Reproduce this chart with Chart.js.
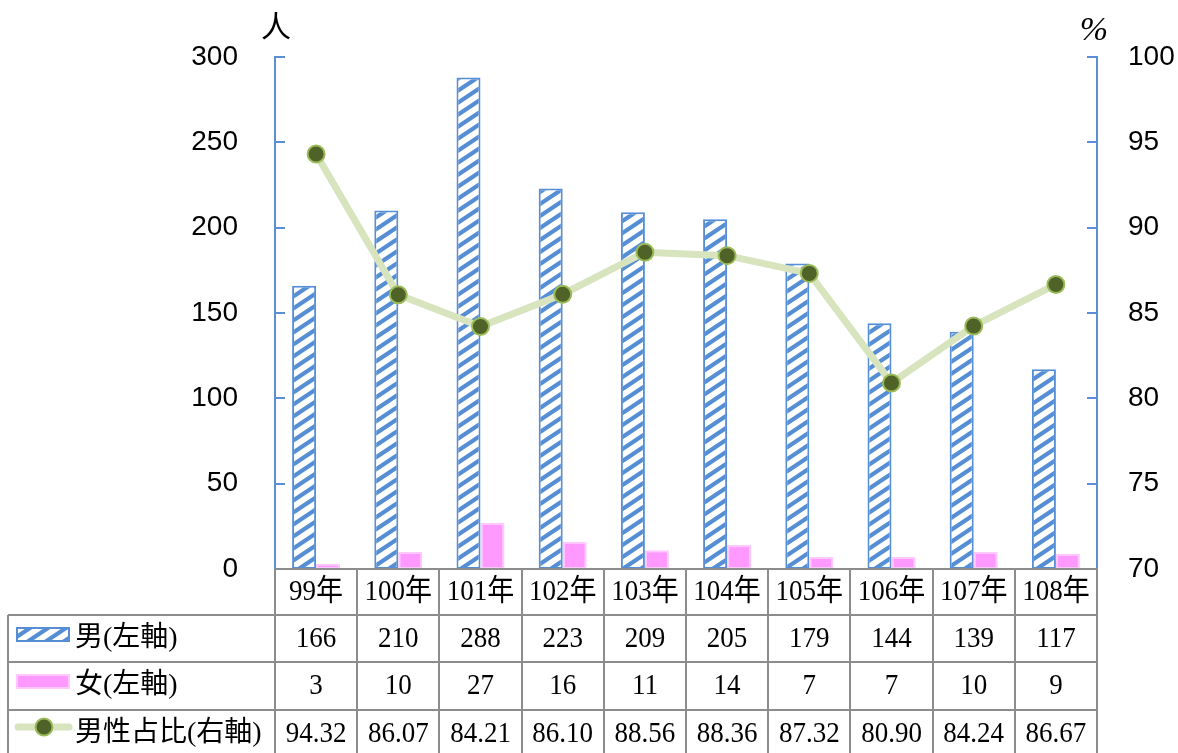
<!DOCTYPE html>
<html><head><meta charset="utf-8">
<script src="https://cdn.jsdelivr.net/npm/chart.js@4"></script>
<style>html,body{margin:0;padding:0;background:#fff;overflow:hidden}canvas{display:block}</style>
</head><body>
<canvas id="c" width="1178" height="753"></canvas>
<script>
const categories = ['99年','100年','101年','102年','103年','104年','105年','106年','107年','108年'];
const maleCounts = [166,210,288,223,209,205,179,144,139,117];
const femaleCounts = [3,10,27,16,11,14,7,7,10,9];
const maleShare = [94.32,86.07,84.21,86.10,88.56,88.36,87.32,80.90,84.24,86.67];
const seriesNames = ['男(左軸)','女(左軸)','男性占比(右軸)'];
const leftAxisTitle = '人';
const rightAxisTitle = '%';

const BLUE = '#558ED5';
const AXIS_BLUE = '#5B8ED6';
const PINK = '#FF99FF';
const PINK_EDGE = '#FFC8FF';
const LINE_GREEN = '#D7E4BD';
const DOT_FILL = '#4F6228';
const DOT_EDGE = '#9BBB59';
const GRID_GRAY = '#8C8C8C';
const SERIF = '"Liberation Serif", "Noto Sans CJK TC", serif';
const SANS = '"Liberation Sans", Arial, sans-serif';

const ctx = document.getElementById('c').getContext('2d');

function stripePattern() {
  const w = 18, h = 12;
  const c = document.createElement('canvas');
  c.width = w; c.height = h;
  const g = c.getContext('2d');
  g.fillStyle = '#fff'; g.fillRect(0, 0, w, h);
  g.strokeStyle = BLUE; g.lineWidth = 4.2;
  g.beginPath();
  for (let k = -2; k <= 1; k++) {
    g.moveTo(-w, h * (2 + k));
    g.lineTo(2 * w, h * (k - 1));
  }
  g.stroke();
  return ctx.createPattern(c, 'repeat');
}
const stripes = stripePattern();

function tableText(g, txt, x, y, align) {
  g.save();
  g.translate(x, y);
  g.scale(0.9, 1);
  g.textAlign = align;
  g.fillText(txt, 0, 0);
  g.restore();
}

const decor = {
  id: 'decor',
  afterDraw(chart) {
    const g = chart.ctx;
    const a = chart.chartArea;
    const yL = chart.scales.y, yR = chart.scales.y1;
    g.save();
    // inward ticks
    g.strokeStyle = AXIS_BLUE; g.lineWidth = 2;
    yL.ticks.forEach(t => { const y = Math.round(yL.getPixelForValue(t.value)); g.beginPath(); g.moveTo(a.left, y); g.lineTo(a.left + 10, y); g.stroke(); });
    yR.ticks.forEach(t => { const y = Math.round(yR.getPixelForValue(t.value)); g.beginPath(); g.moveTo(a.right - 10, y); g.lineTo(a.right, y); g.stroke(); });
    // axis titles
    g.fillStyle = '#000';
    g.textAlign = 'center'; g.textBaseline = 'middle';
    g.font = '30px ' + SERIF;
    g.fillText(leftAxisTitle, a.left + 1, 29);
    g.font = 'italic 34px ' + SERIF;
    g.fillText(rightAxisTitle, a.right - 3, 31);

    // data table
    const n = categories.length;
    const step = (a.right - a.left) / n;
    const rows = [569, 615, 662, 710, 760];
    const tableLeft = 8;
    g.strokeStyle = GRID_GRAY; g.lineWidth = 2;
    g.beginPath(); g.moveTo(a.left, rows[0]); g.lineTo(a.right, rows[0]); g.stroke();
    for (let r = 1; r < rows.length; r++) {
      g.beginPath(); g.moveTo(tableLeft, rows[r]); g.lineTo(a.right, rows[r]); g.stroke();
    }
    for (let i = 0; i <= n; i++) {
      const x = Math.round(a.left + i * step);
      g.beginPath(); g.moveTo(x, rows[0]); g.lineTo(x, rows[4]); g.stroke();
    }
    g.beginPath(); g.moveTo(tableLeft, rows[1]); g.lineTo(tableLeft, rows[4]); g.stroke();

    // texts
    g.fillStyle = '#000';
    g.font = '30px ' + SERIF;
    g.textBaseline = 'middle';
    const mids = [592, 639, 686, 734];
    const xs = chart.scales.x;
    for (let i = 0; i < n; i++) {
      const cx = xs.getPixelForValue(i);
      tableText(g, categories[i], cx, mids[0], 'center');
      tableText(g, String(maleCounts[i]), cx, mids[1], 'center');
      tableText(g, String(femaleCounts[i]), cx, mids[2], 'center');
      tableText(g, maleShare[i].toFixed(2), cx, mids[3], 'center');
    }
    // legend keys
    g.fillStyle = stripes; g.fillRect(17, 628, 52, 13);
    g.strokeStyle = BLUE; g.lineWidth = 2; g.strokeRect(17, 628, 52, 13);
    g.fillStyle = PINK; g.fillRect(17, 675, 52, 13);
    g.strokeStyle = PINK_EDGE; g.strokeRect(17, 675, 52, 13);
    g.strokeStyle = LINE_GREEN; g.lineWidth = 7; g.lineCap = 'round';
    g.beginPath(); g.moveTo(18, 727); g.lineTo(69, 727); g.stroke();
    g.beginPath(); g.arc(44, 727, 8.5, 0, Math.PI * 2);
    g.fillStyle = DOT_FILL; g.fill(); g.strokeStyle = DOT_EDGE; g.lineWidth = 2; g.stroke();
    g.fillStyle = '#000';
    g.font = '28px ' + SERIF;
    g.textAlign = 'left';
    g.fillText(seriesNames[0], 75, mids[1]);
    g.fillText(seriesNames[1], 75, mids[2]);
    g.fillText(seriesNames[2], 75, mids[3]);
    g.restore();
  }
};

new Chart(ctx, {
  data: {
    labels: categories,
    datasets: [
      { type: 'line', label: seriesNames[2], data: maleShare, yAxisID: 'y1', order: 0,
        borderColor: LINE_GREEN, borderWidth: 7, tension: 0,
        pointRadius: 8.5, pointBackgroundColor: DOT_FILL, pointBorderColor: DOT_EDGE, pointBorderWidth: 2 },
      { type: 'bar', label: seriesNames[0], data: maleCounts, yAxisID: 'y', order: 1,
        backgroundColor: stripes, borderColor: BLUE, borderWidth: 2, borderSkipped: false,
        categoryPercentage: 0.584, barPercentage: 1 },
      { type: 'bar', label: seriesNames[1], data: femaleCounts, yAxisID: 'y', order: 2,
        backgroundColor: PINK, borderColor: PINK_EDGE, borderWidth: 2, borderSkipped: false,
        categoryPercentage: 0.584, barPercentage: 1 }
    ]
  },
  options: {
    responsive: false, animation: false,
    layout: { padding: { top: 57, left: 0, right: 0, bottom: 0 } },
    plugins: { legend: { display: false }, tooltip: { enabled: false } },
    scales: {
      x: { grid: { display: false, drawTicks: false }, ticks: { display: false },
           border: { display: false },
           afterFit(s) { s.height = 184; } },
      y: { position: 'left', min: 0, max: 300, ticks: { stepSize: 50, color: '#000', padding: 37, font: { family: SANS, size: 28 } },
           grid: { display: false, drawTicks: false }, border: { color: AXIS_BLUE, width: 2 },
           afterFit(s) { s.width = 275; } },
      y1: { position: 'right', min: 70, max: 100, ticks: { stepSize: 5, color: '#000', padding: 31, font: { family: SANS, size: 28 } },
           grid: { display: false, drawTicks: false }, border: { color: AXIS_BLUE, width: 2 },
           afterFit(s) { s.width = 81; } }
    }
  },
  plugins: [decor]
});
</script>
</body></html>
